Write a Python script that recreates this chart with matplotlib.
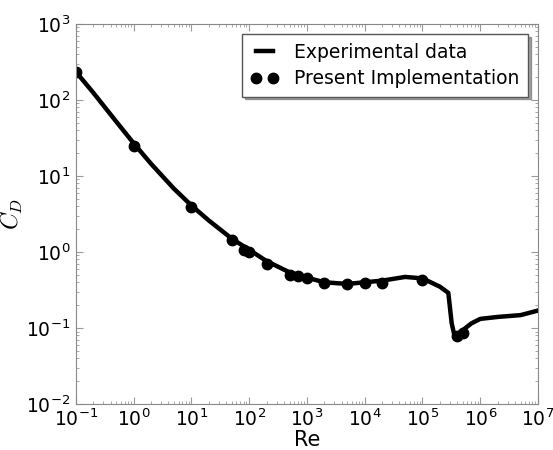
import matplotlib
matplotlib.use("Agg")
import matplotlib.pyplot as plt
import numpy as np

plt.rcParams["mathtext.fontset"] = "cm"
plt.rcParams["axes.formatter.use_mathtext"] = True

# experimental sphere drag curve
exp_re = [0.1, 0.2, 0.5, 1, 2, 5, 10, 20, 50, 100, 200, 500, 1e3, 2e3, 5e3,
          1e4, 2e4, 5e4, 1e5, 2e5, 2.8e5, 3.2e5, 3.6e5, 4.2e5, 5e5, 7e5,
          1e6, 2e6, 5e6, 1e7]
exp_cd = [235, 125, 52, 27, 14.5, 6.8, 4.1, 2.6, 1.5, 1.07, 0.76, 0.54, 0.46,
          0.40, 0.38, 0.40, 0.42, 0.47, 0.45, 0.35, 0.29, 0.115, 0.078, 0.082,
          0.094, 0.115, 0.132, 0.14, 0.148, 0.17]

# present implementation points
sim_re = [0.1, 1, 10, 50, 80, 100, 200, 500, 700, 1000, 2000, 5000, 1e4,
          2e4, 1e5, 4e5, 5e5]
sim_cd = [234, 24.5, 3.9, 1.42, 1.05, 1.0, 0.69, 0.50, 0.48, 0.46, 0.39,
          0.38, 0.39, 0.39, 0.43, 0.079, 0.087]

fig = plt.figure(figsize=(5.53, 4.5), dpi=100)
ax = fig.add_axes([0.137, 0.102, 0.836, 0.845])

ax.loglog(exp_re, exp_cd, color="black", lw=3.2, label="Experimental data")
ax.loglog(sim_re, sim_cd, "o", color="black", ms=7.5, label="Present Implementation")

ax.set_xlim(1e-1, 1e7)
ax.set_ylim(1e-2, 1e3)
ax.set_xticks([10.0 ** k for k in range(-1, 8)])
ax.set_yticks([10.0 ** k for k in range(-2, 4)])
ax.set_xlabel("Re", fontsize=15)
ax.xaxis.set_label_coords(0.5, -0.067)
ax.set_ylabel("$C_D$", fontsize=17)
ax.yaxis.set_label_coords(-0.11, 0.5)

for s in ax.spines.values():
    s.set_color("#888888")
ax.tick_params(which="both", direction="in", top=True, right=True, color="#999999")
ax.tick_params(which="major", length=5, labelsize=13.5, pad=4)
ax.tick_params(axis="x", which="major", pad=3)
ax.tick_params(which="minor", length=2.5)

leg = ax.legend(loc="upper right", numpoints=2, fontsize=13.5, shadow=True,
                fancybox=False, borderaxespad=0.55, handlelength=1.5,
                borderpad=0.45, labelspacing=0.4)
leg.get_frame().set_edgecolor("#555555")
leg.get_frame().set_linewidth(1.0)

fig.savefig("out.png", dpi=100)
